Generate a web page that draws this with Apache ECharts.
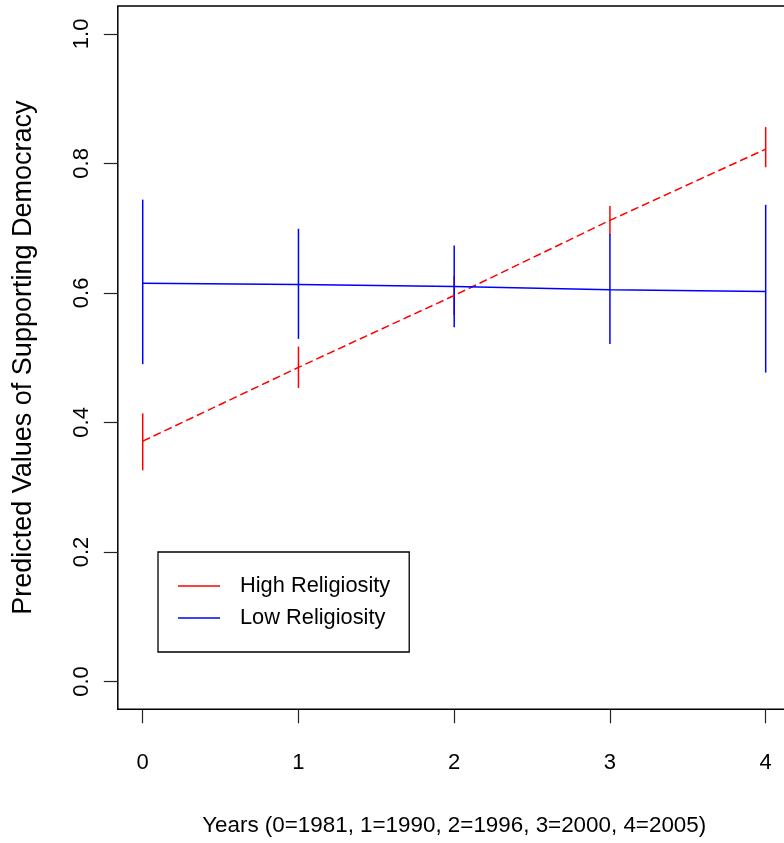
<!DOCTYPE html>
<html>
<head>
<meta charset="utf-8">
<script src="https://cdn.jsdelivr.net/npm/echarts@6/dist/echarts.min.js"></script>
<style>
  html, body { margin: 0; padding: 0; background: #fff; }
  #chart { width: 784px; height: 843px; }
</style>
</head>
<body>
<div id="chart"></div>
<script>
// Survey waves (0=1981 ... 4=2005)
const years = [0, 1, 2, 3, 4];
const xTicks = [0, 1, 2, 3, 4];
const yTicks = [0, 0.2, 0.4, 0.6, 0.8, 1.0];

// High religiosity: predicted value and interval bounds
const highMean = [0.371, 0.485, 0.596, 0.712, 0.822];
const highLo   = [0.326, 0.453, 0.566, 0.690, 0.794];
const highHi   = [0.414, 0.517, 0.626, 0.734, 0.856];

// Low religiosity: predicted value and interval bounds
const lowMean = [0.615, 0.613, 0.610, 0.605, 0.602];
const lowLo   = [0.490, 0.529, 0.547, 0.521, 0.477];
const lowHi   = [0.744, 0.699, 0.673, 0.691, 0.736];

const seriesNames = ['High Religiosity', 'Low Religiosity'];
const RED = '#ff0000', BLUE = '#0000ff';
const SANS = '"Liberation Sans", Arial, Helvetica, sans-serif';

const pairs = (ys) => years.map((x, i) => [x, ys[i]]);
const bars = (lo, hi) => years.map((x, i) => [x, lo[i], hi[i]]);

function errorBar(color) {
  return function (params, api) {
    const a = api.coord([api.value(0), api.value(1)]);
    const b = api.coord([api.value(0), api.value(2)]);
    return {
      type: 'line',
      shape: { x1: a[0], y1: a[1], x2: b[0], y2: b[1] },
      style: { stroke: color, lineWidth: 1.5 }
    };
  };
}

const chart = echarts.init(document.getElementById('chart'), null, { renderer: 'canvas' });
chart.setOption({
  animation: false,
  backgroundColor: '#fff',
  grid: {
    left: 117.8, top: 6, width: 672.8, height: 703.3,
    outerBoundsMode: 'none', containLabel: false,
    show: true, borderColor: '#000', borderWidth: 1.5, backgroundColor: 'transparent'
  },
  legend: {
    data: seriesNames.map(n => ({ name: n, icon: 'rect' })),
    orient: 'vertical',
    left: 158, top: 552,
    itemWidth: 42, itemHeight: 1.5, itemGap: 6,
    padding: [21, 19, 21, 20],
    borderColor: '#000', borderWidth: 1.3,
    selectedMode: false,
    textStyle: { fontFamily: SANS, fontSize: 21.8, color: '#000', lineHeight: 26, padding: [0, 0, 0, 15] }
  },
  xAxis: {
    type: 'value', min: -0.16, max: 4.16,
    splitLine: { show: false },
    axisLine: { show: false, onZero: false },
    axisTick: { show: true, length: 14, customValues: xTicks, lineStyle: { color: '#222', width: 1.2 } },
    axisLabel: { customValues: xTicks, margin: 43, fontFamily: SANS, fontSize: 22, color: '#000' },
    name: 'Years (0=1981, 1=1990, 2=1996, 3=2000, 4=2005)',
    nameLocation: 'middle', nameGap: 106,
    nameTextStyle: { fontFamily: SANS, fontSize: 22.4, color: '#000' }
  },
  yAxis: {
    type: 'value', min: -0.043, max: 1.043,
    splitLine: { show: false },
    axisLine: { show: false, onZero: false },
    axisTick: { show: true, length: 14, customValues: yTicks, lineStyle: { color: '#222', width: 1.2 } },
    axisLabel: {
      customValues: yTicks, rotate: 90, margin: 25,
      formatter: v => v.toFixed(1),
      fontFamily: SANS, fontSize: 22, color: '#000'
    },
    name: 'Predicted Values of Supporting Democracy',
    nameLocation: 'middle', nameGap: 81,
    nameTextStyle: { fontFamily: SANS, fontSize: 27, color: '#000' }
  },
  series: [
    {
      name: seriesNames[0], type: 'line', data: pairs(highMean),
      showSymbol: false, symbol: 'none', color: RED,
      lineStyle: { color: RED, width: 1.5, type: [8, 4] }
    },
    {
      name: 'high-interval', type: 'custom', data: bars(highLo, highHi),
      encode: { x: 0, y: [1, 2] }, renderItem: errorBar(RED)
    },
    {
      name: seriesNames[1], type: 'line', data: pairs(lowMean),
      showSymbol: false, symbol: 'none', color: BLUE,
      lineStyle: { color: BLUE, width: 1.5 }
    },
    {
      name: 'low-interval', type: 'custom', data: bars(lowLo, lowHi),
      encode: { x: 0, y: [1, 2] }, renderItem: errorBar(BLUE)
    }
  ]
});
</script>
</body>
</html>
